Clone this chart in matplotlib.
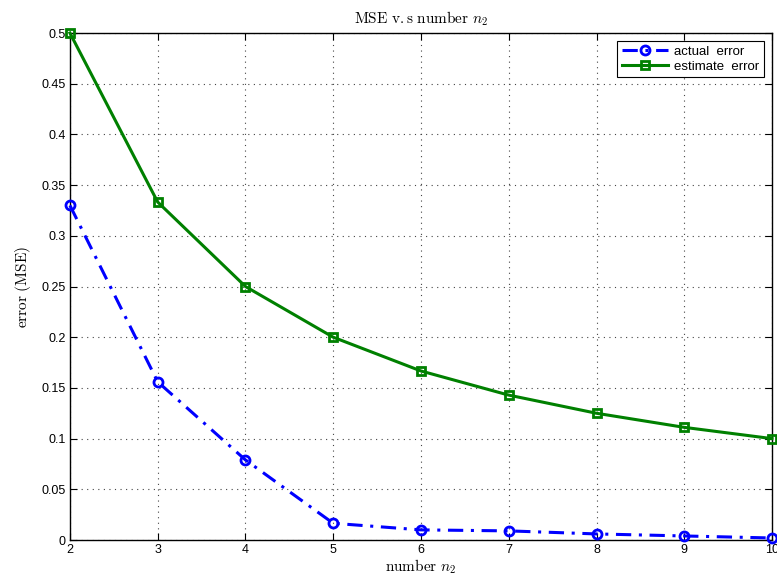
import matplotlib
matplotlib.use("Agg")
import matplotlib.pyplot as plt

plt.rcParams["mathtext.fontset"] = "cm"
plt.rcParams["font.family"] = "Liberation Sans"

# data
n2 = [2, 3, 4, 5, 6, 7, 8, 9, 10]
actual_error = [0.33, 0.156, 0.079, 0.0165, 0.010, 0.009, 0.006, 0.004, 0.002]
estimate_error = [0.5, 0.3333, 0.25, 0.2, 0.1667, 0.1429, 0.125, 0.1111, 0.1]
yticks = [0, 0.05, 0.1, 0.15, 0.2, 0.25, 0.3, 0.35, 0.4, 0.45, 0.5]
ytick_labels = ["0", "0.05", "0.1", "0.15", "0.2", "0.25", "0.3", "0.35", "0.4", "0.45", "0.5"]

fig = plt.figure(figsize=(7.77, 5.77), dpi=100)
ax = fig.add_axes([0.090, 0.0641, 0.9036, 0.8787])

ax.plot(n2, actual_error, color=(0, 0, 1), linestyle=(0, (5, 2.5, 1, 2.5)), linewidth=2.2,
        marker="o", markersize=6.5, markerfacecolor="none", markeredgewidth=2,
        label="actual  error", clip_on=False, zorder=3)
ax.plot(n2, estimate_error, color=(0, 0.5, 0), linestyle="-", linewidth=2.2,
        marker="s", markersize=5.5, markerfacecolor="none", markeredgewidth=2,
        label="estimate  error", clip_on=False, zorder=3)

ax.set_xlim(2, 10)
ax.set_ylim(0, 0.5)
ax.set_xticks(n2)
ax.set_yticks(yticks)
ax.set_yticklabels(ytick_labels)
ax.tick_params(direction="in", top=True, right=True, labelsize=9, length=5, pad=3)
ax.grid(True, linestyle=(0, (1, 4)), color="#444444", linewidth=0.8)
for s in ax.spines.values():
    s.set_linewidth(1.0)

ax.set_title(r"$\mathrm{MSE\ v{.}s\ number}\ n_2$", fontsize=11, pad=7)
ax.set_xlabel(r"$\mathrm{number}\ n_2$", fontsize=11, labelpad=1)
ax.set_ylabel(r"$\mathrm{error\ (MSE)}$", fontsize=11, labelpad=6)

leg = ax.legend(loc="upper right", fontsize=9.5, fancybox=False, edgecolor="black",
                framealpha=1, borderpad=0.35, handlelength=3.5, labelspacing=0.2,
                borderaxespad=0.6, handletextpad=0.5)
leg.get_frame().set_linewidth(0.8)

fig.savefig("out.png", dpi=100)
